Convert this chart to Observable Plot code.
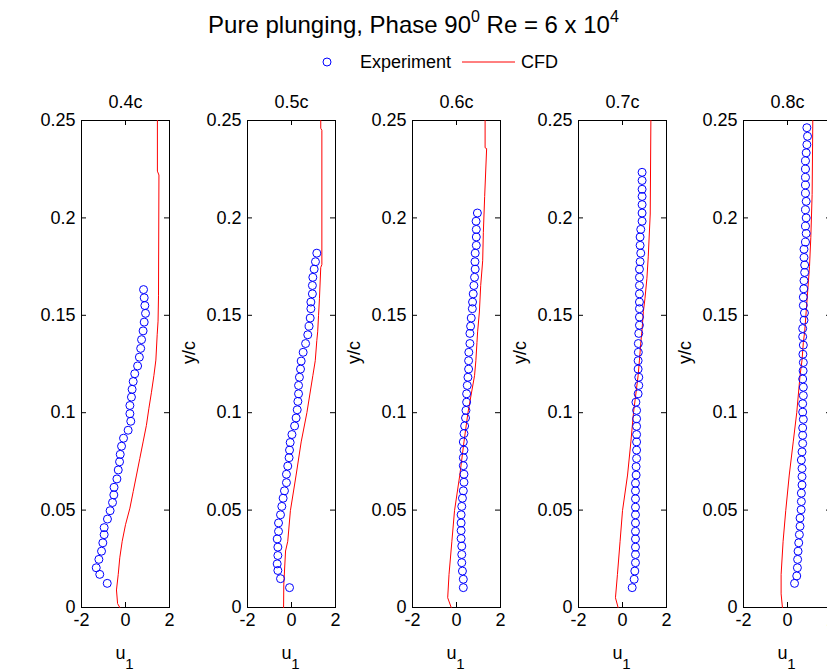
<!DOCTYPE html>
<html><head><meta charset="utf-8">
<script src="https://cdn.jsdelivr.net/npm/d3@7"></script>
<script src="https://cdn.jsdelivr.net/npm/@observablehq/plot@0.6"></script>
<style>
html,body{margin:0;padding:0;background:#fff;}
#root{position:relative;width:827px;height:670px;overflow:hidden;font-family:"Liberation Sans",Arial,sans-serif;color:#000;background:#fff;}
#title{position:absolute;left:0;width:827px;top:5px;text-align:center;font-size:24px;line-height:28px;white-space:nowrap;}
#title sup{font-size:16px;position:relative;top:-2px;}
#legend{position:absolute;top:50px;left:0;}
.panel{position:absolute;top:80px;}
</style></head><body><div id="root">
<div id="title">Pure plunging, Phase 90<sup>0</sup> Re = 6 x 10<sup>4</sup></div>
<svg id="legend" width="827" height="24" font-family="Liberation Sans, Arial, sans-serif" font-size="18">
  <circle cx="327" cy="12" r="4" fill="none" stroke="#0000ff" stroke-width="1"></circle>
  <text x="360" y="18" fill="#000">Experiment</text>
  <line x1="462" x2="515" y1="12" y2="12" stroke="#ff0000" stroke-width="1"></line>
  <text x="521" y="18" fill="#000">CFD</text>
</svg>
</div>
<script>
// ---- data: [y/c, u1] pairs ----
const stations = ["0.4c", "0.5c", "0.6c", "0.7c", "0.8c"];
const xTicks = [-2, 0, 2];
const yTicks = [0, 0.05, 0.1, 0.15, 0.2, 0.25];

const exp04 = [[0.0124,-0.83],[0.0170,-1.17],[0.0204,-1.33],[0.0247,-1.21],[0.0289,-1.09],[0.0332,-1.03],[0.0374,-0.97],[0.0410,-0.97],[0.0454,-0.82],[0.0497,-0.70],[0.0539,-0.59],[0.0578,-0.53],[0.0617,-0.52],[0.0660,-0.39],[0.0706,-0.33],[0.0748,-0.27],[0.0786,-0.24],[0.0828,-0.18],[0.0869,-0.09],[0.0910,0.12],[0.0956,0.24],[0.0995,0.20],[0.1037,0.20],[0.1080,0.27],[0.1120,0.30],[0.1160,0.35],[0.1200,0.42],[0.1240,0.55],[0.1285,0.63],[0.1330,0.69],[0.1375,0.73],[0.1420,0.80],[0.1465,0.85],[0.1510,0.91],[0.1550,0.88],[0.1590,0.85],[0.1632,0.82]];
const exp05 = [[0.0102,-0.09],[0.0148,-0.50],[0.0190,-0.62],[0.0224,-0.65],[0.0267,-0.62],[0.0310,-0.62],[0.0352,-0.65],[0.0391,-0.59],[0.0434,-0.59],[0.0476,-0.50],[0.0519,-0.44],[0.0561,-0.38],[0.0599,-0.32],[0.0641,-0.23],[0.0684,-0.23],[0.0726,-0.17],[0.0769,-0.11],[0.0808,-0.09],[0.0847,-0.06],[0.0888,0.02],[0.0932,0.14],[0.0973,0.21],[0.1015,0.26],[0.1058,0.29],[0.1097,0.32],[0.1140,0.32],[0.1182,0.36],[0.1224,0.41],[0.1265,0.44],[0.1310,0.53],[0.1355,0.64],[0.1400,0.74],[0.1444,0.80],[0.1486,0.85],[0.1534,0.88],[0.1568,0.88],[0.1610,0.95],[0.1653,0.95],[0.1695,0.97],[0.1737,1.03],[0.1775,1.09],[0.1819,1.15]];
const exp06 = [[0.0102,0.31],[0.0145,0.31],[0.0187,0.27],[0.0230,0.24],[0.0272,0.24],[0.0315,0.24],[0.0354,0.21],[0.0395,0.21],[0.0434,0.21],[0.0476,0.21],[0.0519,0.24],[0.0561,0.27],[0.0599,0.31],[0.0643,0.34],[0.0684,0.34],[0.0728,0.31],[0.0769,0.31],[0.0808,0.34],[0.0850,0.31],[0.0893,0.34],[0.0932,0.37],[0.0973,0.41],[0.1012,0.43],[0.1054,0.46],[0.1097,0.46],[0.1140,0.49],[0.1182,0.52],[0.1224,0.55],[0.1267,0.55],[0.1310,0.56],[0.1355,0.61],[0.1407,0.61],[0.1444,0.64],[0.1486,0.67],[0.1534,0.72],[0.1568,0.73],[0.1610,0.76],[0.1653,0.79],[0.1695,0.82],[0.1737,0.85],[0.1775,0.84],[0.1819,0.85],[0.1859,0.90],[0.1902,0.90],[0.1941,0.90],[0.1983,0.89],[0.2025,0.95]];
const exp07 = [[0.0102,0.44],[0.0145,0.53],[0.0187,0.56],[0.0230,0.59],[0.0272,0.59],[0.0310,0.59],[0.0352,0.59],[0.0391,0.59],[0.0434,0.59],[0.0476,0.59],[0.0515,0.59],[0.0558,0.59],[0.0599,0.59],[0.0638,0.59],[0.0680,0.62],[0.0723,0.62],[0.0765,0.64],[0.0808,0.64],[0.0850,0.64],[0.0888,0.64],[0.0930,0.64],[0.0969,0.64],[0.1012,0.64],[0.1054,0.61],[0.1097,0.71],[0.1140,0.74],[0.1182,0.74],[0.1224,0.71],[0.1267,0.71],[0.1310,0.72],[0.1355,0.72],[0.1407,0.74],[0.1449,0.77],[0.1491,0.77],[0.1534,0.77],[0.1568,0.77],[0.1610,0.77],[0.1653,0.77],[0.1695,0.77],[0.1737,0.77],[0.1775,0.80],[0.1819,0.83],[0.1859,0.80],[0.1902,0.80],[0.1941,0.83],[0.1983,0.89],[0.2025,0.89],[0.2068,0.89],[0.2110,0.89],[0.2147,0.89],[0.2192,0.89],[0.2234,0.89]];
const exp08 = [[0.0124,0.32],[0.0162,0.42],[0.0204,0.45],[0.0247,0.46],[0.0289,0.48],[0.0332,0.51],[0.0374,0.54],[0.0417,0.57],[0.0459,0.57],[0.0502,0.62],[0.0544,0.63],[0.0587,0.63],[0.0629,0.66],[0.0672,0.66],[0.0714,0.66],[0.0757,0.63],[0.0799,0.66],[0.0842,0.69],[0.0884,0.69],[0.0922,0.69],[0.0966,0.72],[0.1003,0.69],[0.1046,0.69],[0.1088,0.72],[0.1131,0.72],[0.1173,0.69],[0.1215,0.71],[0.1258,0.72],[0.1300,0.70],[0.1347,0.72],[0.1390,0.69],[0.1432,0.69],[0.1475,0.75],[0.1512,0.77],[0.1551,0.72],[0.1593,0.72],[0.1636,0.74],[0.1678,0.75],[0.1720,0.78],[0.1758,0.78],[0.1797,0.75],[0.1839,0.75],[0.1876,0.82],[0.1920,0.85],[0.1958,0.82],[0.2000,0.85],[0.2042,0.82],[0.2085,0.85],[0.2127,0.82],[0.2169,0.82],[0.2208,0.82],[0.2251,0.82],[0.2293,0.82],[0.2334,0.85],[0.2376,0.88],[0.2419,0.91],[0.2463,0.88]];

const cfd04 = [[0,-0.26],[0.002,-0.36],[0.009,-0.41],[0.017,-0.33],[0.0255,-0.26],[0.034,-0.15],[0.0425,0.0],[0.051,0.2],[0.0595,0.35],[0.068,0.5],[0.0765,0.65],[0.085,0.8],[0.0935,0.95],[0.102,1.06],[0.1105,1.18],[0.119,1.29],[0.127,1.38],[0.140,1.44],[0.147,1.48],[0.160,1.50],[0.222,1.52],[0.224,1.45],[0.25,1.45]];
const cfd05 = [[0,-0.36],[0.012,-0.35],[0.029,-0.27],[0.034,-0.17],[0.0497,-0.05],[0.068,0.21],[0.085,0.44],[0.1,0.7],[0.119,0.97],[0.1267,1.08],[0.137,1.15],[0.1415,1.19],[0.15,1.23],[0.1585,1.27],[0.1746,1.33],[0.176,1.38],[0.245,1.38],[0.246,1.33],[0.25,1.33]];
const cfd06 = [[0,-0.24],[0.005,-0.40],[0.017,-0.34],[0.034,-0.21],[0.0497,-0.09],[0.068,0.15],[0.085,0.34],[0.1,0.52],[0.119,0.82],[0.1267,0.88],[0.136,0.93],[0.1415,0.96],[0.1517,1.04],[0.1653,1.1],[0.178,1.19],[0.1924,1.22],[0.211,1.28],[0.2356,1.37],[0.236,1.30],[0.25,1.30]];
const cfd07 = [[0,-0.20],[0.005,-0.32],[0.017,-0.23],[0.034,-0.11],[0.0497,0.0],[0.068,0.23],[0.085,0.38],[0.1,0.5],[0.119,0.71],[0.127,0.77],[0.137,0.84],[0.1415,0.88],[0.152,0.95],[0.1585,1.02],[0.169,1.11],[0.18,1.17],[0.202,1.26],[0.25,1.29]];
const cfd08 = [[0,-0.23],[0.007,-0.29],[0.017,-0.29],[0.034,-0.2],[0.0497,-0.08],[0.068,0.08],[0.085,0.26],[0.1,0.42],[0.119,0.57],[0.127,0.66],[0.136,0.72],[0.1415,0.78],[0.152,0.85],[0.175,1.0],[0.19,1.06],[0.212,1.12],[0.25,1.15]];

const expSets = [exp04, exp05, exp06, exp07, exp08];
const cfdSets = [cfd04, cfd05, cfd06, cfd07, cfd08];

// ---- layout ----
const panelW = 88, panelH = 487;
const mL = 64, mR = 16, mT = 40, mB = 63;
const frameLefts = [81, 246.6, 412.2, 577.8, 743.4];
const tickLen = 5;
const font = "Liberation Sans, Arial, sans-serif";

const root = document.getElementById("root");
stations.forEach((name, i) => {
  const marks = [
    Plot.frame({stroke: "#000", strokeWidth: 1}),
    Plot.ruleY(yTicks, {y: d => d, insetRight: panelW - tickLen, stroke: "#000"}),
    Plot.ruleY(yTicks, {y: d => d, insetLeft: panelW - tickLen, stroke: "#000"}),
    Plot.ruleX(xTicks, {x: d => d, insetTop: panelH - tickLen, stroke: "#000"}),
    Plot.ruleX(xTicks, {x: d => d, insetBottom: panelH - tickLen, stroke: "#000"}),
    Plot.axisY(yTicks, {tickSize: 0, tickPadding: 6, tickFormat: d => String(d), label: null, fontSize: 18, fill: "#000"}),
    Plot.axisX(xTicks, {tickSize: 0, tickPadding: 6, tickFormat: d => String(d), label: null, fontSize: 18, fill: "#000"}),
    Plot.line(cfdSets[i], {x: d => d[1], y: d => d[0], stroke: "#ff0000", strokeWidth: 1}),
    Plot.dot(expSets[i], {x: d => d[1], y: d => d[0], r: 4, stroke: "#0000ff", fill: "none", strokeWidth: 1}),
    Plot.text([name], {frameAnchor: "top", dy: -13, lineAnchor: "bottom", fontSize: 18, fill: "#000"}),
    Plot.text(["u"], {frameAnchor: "bottom", dx: -5, dy: 51, lineAnchor: "bottom", fontSize: 18, fill: "#000"}),
    Plot.text(["1"], {frameAnchor: "bottom", dx: 4, dy: 61, lineAnchor: "bottom", fontSize: 15, fill: "#000"})
  ];
  if (i > 0) marks.push(Plot.text(["y/c"], {frameAnchor: "left", dx: -58, rotate: -90, fontSize: 18, fill: "#000"}));
  const svg = Plot.plot({
    width: mL + panelW + mR,
    height: mT + panelH + mB,
    marginLeft: mL, marginRight: mR, marginTop: mT, marginBottom: mB,
    x: {domain: [-2, 2]},
    y: {domain: [0, 0.25]},
    style: {fontFamily: font, fontSize: "18px", background: "transparent", overflow: "visible"},
    marks
  });
  svg.classList.add("panel");
  svg.style.left = (frameLefts[i] - mL) + "px";
  root.appendChild(svg);
});
</script>
</body></html>
